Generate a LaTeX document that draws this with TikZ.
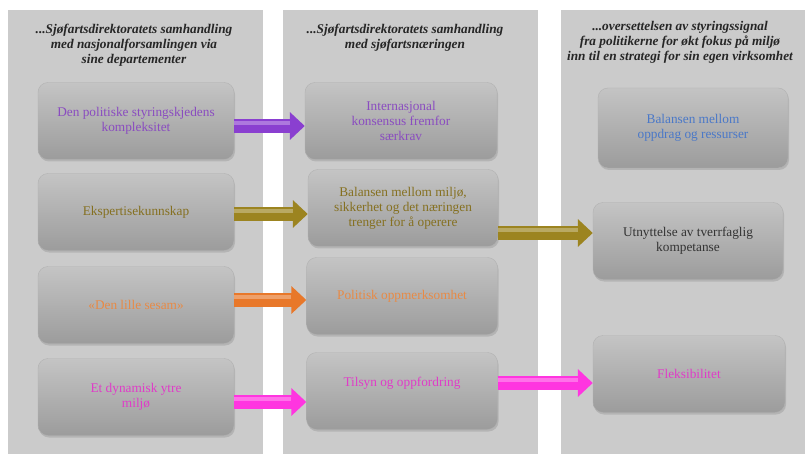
\documentclass[tikz,border=0pt]{standalone}
\usepackage{fontspec}
\setmainfont{Liberation Serif}
\usetikzlibrary{shadows,arrows.meta}

\definecolor{panel}{HTML}{CBCBCB}
\definecolor{boxtop}{HTML}{C4C4C4}
\definecolor{boxbot}{HTML}{9C9C9C}
\definecolor{lilla}{HTML}{8A3FD0}
\definecolor{lillatxt}{HTML}{8A4CC0}
\definecolor{gull}{HTML}{9C8420}
\definecolor{gulltxt}{HTML}{857020}
\definecolor{blaatxt}{HTML}{4A78C8}
\definecolor{oransje}{HTML}{E8782A}
\definecolor{oransjetxt}{HTML}{E88A45}
\definecolor{rosa}{HTML}{FF35E0}
\definecolor{rosatxt}{HTML}{E03CC8}

\begin{document}
\begin{tikzpicture}[x=1pt,y=-1pt,
    boks/.style={rounded corners=10pt, minimum width=196pt, minimum height=77pt,
      align=center, top color=boxtop, bottom color=boxbot,
      draw=gray!60, drop shadow={opacity=0.3, shadow xshift=1pt, shadow yshift=-2pt},
      font=\fontsize{13.3}{15}\selectfont},
    overskrift/.style={align=center, text=black!85, font=\fontsize{13.3}{15}\selectfont\bfseries\itshape},
    pil/.style={draw=#1, line width=14pt, -{Triangle[length=15pt,width=27pt]},
      postaction={draw=white, draw opacity=0.3, line width=4pt, -, shorten >=15pt,
        transform canvas={yshift=3pt}}}
  ]
    \useasboundingbox (0,0) rectangle (805,454);
    \fill[white] (0,0) rectangle (805,454);
    % panels
    \fill[panel] (8,10) rectangle (263,454);
    \fill[panel] (283,10) rectangle (538,454);
    \fill[panel] (561,10) rectangle (805,454);
    % headings
    \node[overskrift] (h1) at (134,45) {...Sjøfartsdirektoratets samhandling\\med nasjonalforsamlingen via\\sine departementer};
    \node[overskrift] (h2) at (405,37.5) {...Sjøfartsdirektoratets samhandling\\med sjøfartsnæringen};
    \node[overskrift] (h3) at (680,42) {...oversettelsen av styringssignal\\fra politikerne for økt fokus på miljø\\inn til en strategi for sin egen virksomhet};
    % boxes
    \node[boks, text=lillatxt] (a1) at (136,121) {Den politiske styringskjedens\\kompleksitet};
    \node[boks, text=gulltxt] (a2) at (136,212) {Ekspertisekunnskap};
    \node[boks, text=oransjetxt] (a3) at (136,305) {«Den lille sesam»};
    \node[boks, text=rosatxt] (a4) at (136,397) {Et dynamisk ytre\\miljø};
    \node[boks, text=lillatxt, minimum width=192pt] (b1) at (401,121) {Internasjonal\\konsensus fremfor\\særkrav};
    \node[boks, text=gulltxt, minimum width=190pt] (b2) at (403,208) {Balansen mellom miljø,\\sikkerhet og det næringen\\trenger for å operere};
    \node[boks, text=oransjetxt, minimum width=191pt] (b3) at (402,296) {Politisk oppmerksomhet};
    \node[boks, text=rosatxt, minimum width=191pt] (b4) at (402,391) {\raisebox{18pt}{Tilsyn og oppfordring}};
    \node[boks, text=blaatxt, minimum width=190pt, minimum height=80pt] (c1) at (693,128) {Balansen mellom\\oppdrag og ressurser};
    \node[boks, text=black!80, minimum width=190pt] (c2) at (688,241) {Utnyttelse av tverrfaglig\\kompetanse};
    \node[boks, text=rosatxt, minimum width=192pt] (c4) at (689,374) {Fleksibilitet};
    % arrows
    \coordinate (y1) at (0,126);
    \coordinate (y2) at (0,214);
    \coordinate (y3) at (0,233);
    \coordinate (y4) at (0,300);
    \coordinate (y5) at (0,402);
    \coordinate (y6) at (0,383);
    \draw[pil=lilla] (a1.east |- y1) -- (b1.west |- y1);
    \draw[pil=gull] (a2.east |- y2) -- (b2.west |- y2);
    \draw[pil=gull] (b2.east |- y3) -- (c2.west |- y3);
    \draw[pil=oransje] (a3.east |- y4) -- (b3.west |- y4);
    \draw[pil=rosa] (a4.east |- y5) -- (b4.west |- y5);
    \draw[pil=rosa] (b4.east |- y6) -- (c4.west |- y6);
  \end{tikzpicture}
\end{document}
